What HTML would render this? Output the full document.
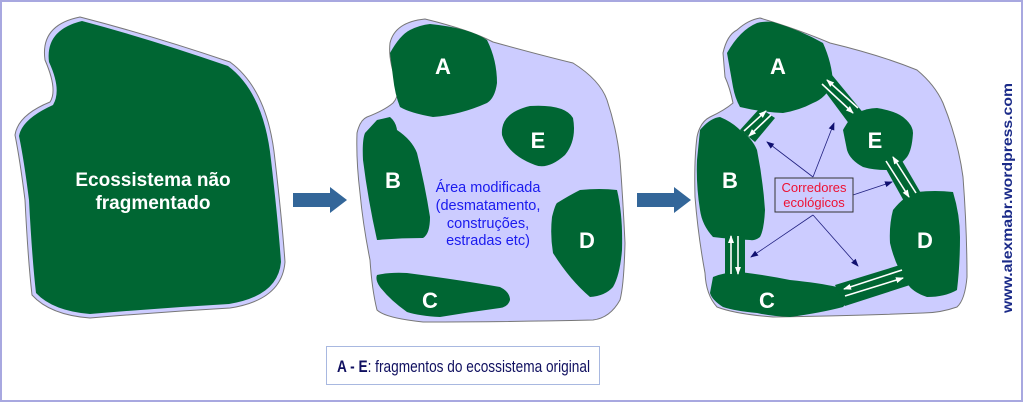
<!DOCTYPE html>
<html><head><meta charset="utf-8"><style>
html,body{margin:0;padding:0;background:#fff}
svg{display:block}
text{font-family:"Liberation Sans",Arial,sans-serif}
</style></head><body>
<svg width="1023" height="402" viewBox="0 0 1023 402" xmlns="http://www.w3.org/2000/svg">
<defs>
<marker id="nv" markerWidth="8" markerHeight="8" refX="7" refY="4" orient="auto" markerUnits="userSpaceOnUse"><path d="M0,1 L8,4 L0,7 z" fill="#101070"/></marker>
<marker id="wh" markerWidth="8" markerHeight="8" refX="7" refY="4" orient="auto" markerUnits="userSpaceOnUse"><path d="M0,1 L8,4 L0,7 z" fill="#fff"/></marker>
</defs>
<rect x="1" y="1" width="1021" height="400" fill="#fff" stroke="#a8a8e0" stroke-width="2"/>

<!-- Blob 1 -->
<path d="M45,60 Q40,25 80,17 Q150,35 230,62 Q268,90 275,160 Q282,220 285,262 Q282,300 230,308 Q160,312 90,318 Q50,315 32,295 Q28,260 25,200 Q20,160 15,135 Q18,115 50,102 Q58,90 45,60 Z" fill="#ccccff" stroke="#777" stroke-width="1"/>
<path d="M49,62 Q45,30 82,21 Q150,39 228,66 Q264,93 271,160 Q278,220 281,262 Q278,296 229,304 Q160,308 90,314 Q53,311 36,293 Q32,258 29,200 Q24,160 19,136 Q22,119 53,105 Q62,90 49,62 Z" fill="#006633"/>
<text x="153" y="186" fill="#fff" font-size="19" font-weight="bold" text-anchor="middle">Ecossistema não</text>
<text x="153" y="209" fill="#fff" font-size="19" font-weight="bold" text-anchor="middle">fragmentado</text>

<!-- arrows -->
<path d="M293,193 H330 V187 L347,200 L330,213 V207 H293 Z" fill="#336699"/>
<path d="M637,193 H674 V187 L691,200 L674,213 V207 H637 Z" fill="#336699"/>

<!-- Blob 2 -->
<path d="M390,43 Q395,22 425,19 Q470,30 493,42 Q540,55 573,63 Q600,80 607,100 Q617,130 620,160 Q623,200 625,243 Q624,285 620,300 Q610,318 593,320 Q500,322 423,322 Q385,318 377,310 Q372,290 370,260 Q363,225 360,193 Q356,160 357,133 Q360,120 367,117 Q385,110 393,103 Q400,95 397,83 Q388,60 390,43 Z" fill="#ccccff" stroke="#777" stroke-width="1"/>
<path d="M390,53 Q400,35 410,30 Q420,25 430,24 Q470,28 487,40 Q497,60 497,83 Q495,98 487,103 Q460,115 433,117 Q410,113 400,107 Q395,95 393,77 Z" fill="#006633"/>
<path d="M377,120 L390,117 Q396,122 397,130 Q412,140 417,153 Q425,185 430,217 Q430,234 423,238 Q400,238 377,240 Q368,200 363,160 Q362,140 365,133 Z" fill="#006633"/>
<path d="M502,135 Q500,113 530,106 Q565,104 573,118 Q577,140 565,155 Q548,170 535,165 Q508,155 502,135 Z" fill="#006633"/>
<path d="M552,217 Q555,205 557,203 Q570,195 580,190 Q600,188 617,190 Q623,215 622,250 Q620,275 613,287 Q605,296 590,297 Q570,280 553,253 Q550,235 552,217 Z" fill="#006633"/>
<path d="M377,275 Q390,272 407,273 Q460,280 500,287 Q510,292 510,300 Q508,307 500,308 Q470,312 440,317 Q420,316 407,312 Q390,300 380,287 Q375,280 377,275 Z" fill="#006633"/>
<g fill="#fff" font-size="22" font-weight="bold" text-anchor="middle">
<text x="443" y="74">A</text><text x="393" y="188">B</text><text x="538" y="148">E</text><text x="587" y="248">D</text><text x="430" y="308">C</text>
</g>
<g fill="#1a1aee" font-size="14.5" text-anchor="middle">
<text x="488" y="192">Área modificada</text>
<text x="488" y="210">(desmatamento,</text>
<text x="488" y="228">construções,</text>
<text x="488" y="245">estradas etc)</text>
</g>

<!-- Blob 3 -->
<path d="M723,53 Q727,35 737,30 Q748,20 760,18 Q800,30 830,43 Q880,55 917,70 Q935,85 943,103 Q958,140 963,177 Q967,230 967,277 Q965,300 957,307 Q940,313 923,313 Q850,316 773,317 Q735,314 717,307 Q706,295 705,273 Q698,235 695,197 Q694,160 697,137 Q700,122 710,117 Q725,110 733,103 Q730,88 725,77 Z" fill="#ccccff" stroke="#777" stroke-width="1"/>
<g fill="#006633">
<path d="M727,53 Q740,30 757,23 Q765,21 773,22 Q800,30 823,43 Q832,63 833,83 Q826,98 813,103 Q800,110 783,113 Q760,112 740,107 Q735,98 733,87 Z"/>
<path d="M700,130 Q710,118 720,117 Q732,122 740,130 Q752,138 757,150 Q763,180 765,210 Q764,230 760,237 Q755,241 750,240 Q730,239 713,237 Q702,225 700,210 Q696,185 697,160 Z"/>
<path d="M725,230 L745,230 L745,278 L725,278 Z"/>
<path d="M713,277 Q725,272 740,272 Q765,275 790,280 Q820,283 837,287 Q847,290 847,297 Q846,305 843,307 Q820,313 790,317 Q770,316 757,313 Q735,311 723,307 Q712,300 710,293 Z"/>
<path d="M835,285 L900,265 L910,285 L845,306 Z"/>
<path d="M893,210 Q905,195 917,192 Q935,190 953,192 Q960,215 960,237 Q960,265 957,290 Q945,297 927,297 Q912,292 907,283 Q895,265 890,243 Q889,225 893,210 Z"/>
<path d="M881,160 L897,152 L922,195 L905,203 Z"/>
<path d="M843,130 Q850,117 857,113 Q867,108 877,108 Q895,111 903,117 Q913,125 913,133 Q912,150 907,157 Q898,168 887,170 Q873,170 863,167 Q850,160 847,150 Z"/>
<path d="M818,82 L832,75 L865,115 L850,125 Z"/>
<path d="M740,130 L760,108 L775,118 L755,142 Z"/>
</g>
<g stroke="#fff" stroke-width="1.6" fill="none" marker-end="url(#wh)">
<line x1="744" y1="131" x2="766" y2="111"/>
<line x1="771" y1="115" x2="749" y2="136"/>
<line x1="822" y1="84" x2="853" y2="113"/>
<line x1="858" y1="108" x2="827" y2="80"/>
<line x1="886" y1="161" x2="909" y2="197"/>
<line x1="916" y1="193" x2="893" y2="157"/>
<line x1="731" y1="274" x2="731" y2="236"/>
<line x1="738" y1="236" x2="738" y2="274"/>
<line x1="902" y1="270" x2="844" y2="289"/>
<line x1="845" y1="296" x2="903" y2="278"/>
</g>
<g fill="#fff" font-size="22" font-weight="bold" text-anchor="middle">
<text x="778" y="74">A</text><text x="730" y="188">B</text><text x="875" y="148">E</text><text x="925" y="248">D</text><text x="767" y="308">C</text>
</g>
<g stroke="#202080" stroke-width="0.8" marker-end="url(#nv)">
<line x1="813" y1="177" x2="767" y2="142"/>
<line x1="813" y1="177" x2="834" y2="123"/>
<line x1="853" y1="195" x2="892" y2="182"/>
<line x1="813" y1="215" x2="751" y2="257"/>
<line x1="813" y1="215" x2="858" y2="266"/>
</g>
<rect x="775" y="178" width="78" height="34" fill="#ccccff" stroke="#333" stroke-width="1"/>
<g fill="#ee1133" font-size="13" text-anchor="middle">
<text x="814" y="192">Corredores</text>
<text x="814" y="207">ecológicos</text>
</g>

<!-- legend -->
<rect x="326.5" y="346.5" width="273" height="38" fill="#fff" stroke="#a8b8e0" stroke-width="1"/>
<text x="337" y="372" font-size="17" fill="#101060" textLength="253" lengthAdjust="spacingAndGlyphs"><tspan font-weight="bold">A - E</tspan>: fragmentos do ecossistema original</text>

<text transform="translate(1012,313) rotate(-90)" font-size="14" font-weight="bold" fill="#1a2a88" textLength="230" lengthAdjust="spacingAndGlyphs">www.alexmabr.wordpress.com</text>
</svg>
</body></html>
